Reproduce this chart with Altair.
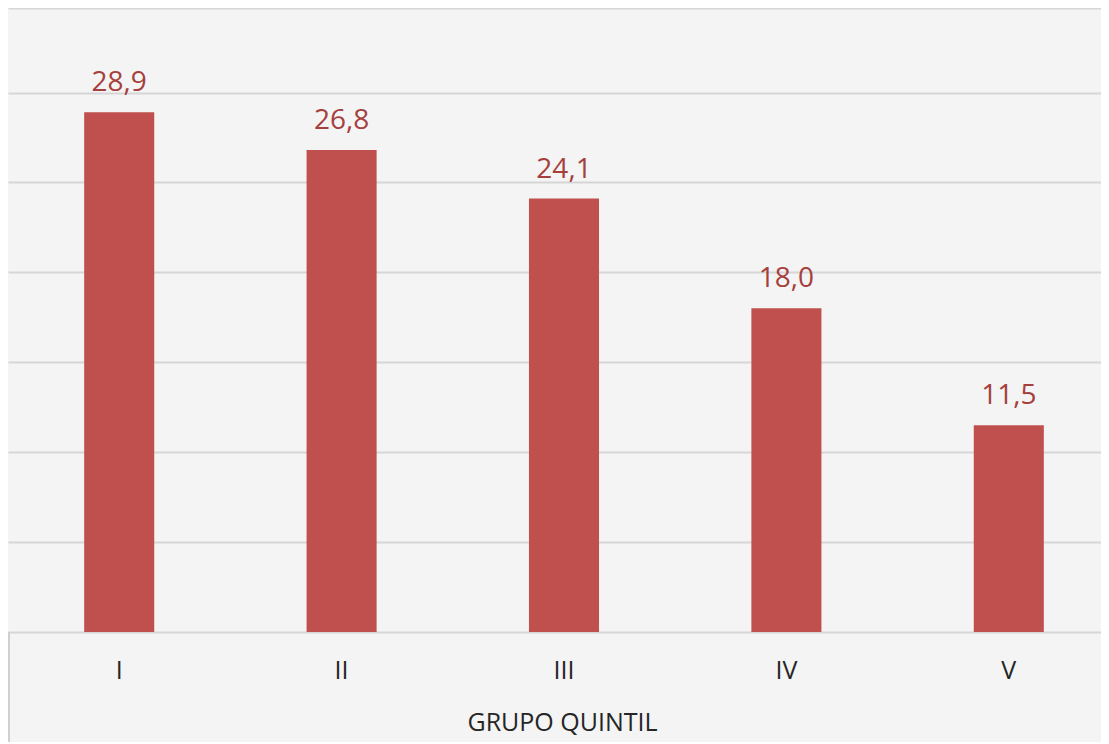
import altair as alt
import pandas as pd

categories = ["I", "II", "III", "IV", "V"]
values = [28.9, 26.8, 24.1, 18.0, 11.5]
labels = ["28,9", "26,8", "24,1", "18,0", "11,5"]
y_max = 34.7
grid_values = [0, 5, 10, 15, 20, 25, 30, 34.7]

df = pd.DataFrame({"grupo": categories, "valor": values, "etiqueta": labels})

FONT = "Open Sans"

x_enc = alt.X(
    "grupo:N",
    sort=categories,
    scale=alt.Scale(paddingInner=0.685, paddingOuter=0.3425, range=[0, 1112]),
    axis=alt.Axis(
        title="GRUPO QUINTIL",
        labelAngle=0,
        labelFont=FONT,
        labelFontSize=25,
        labelColor="#262626",
        labelPadding=26,
        ticks=False,
        domain=False,
        titleFont=FONT,
        titleFontSize=25,
        titleFontWeight="normal",
        titleColor="#262626",
        titlePadding=27,
        titleX=554,
        grid=False,
    ),
)

y_enc = alt.Y(
    "valor:Q",
    scale=alt.Scale(domain=[0, y_max], nice=False),
    axis=alt.Axis(
        title=None,
        labels=False,
        ticks=False,
        domain=False,
        values=grid_values,
        grid=True,
        gridColor="#d6d6d6",
        gridWidth=2,
    ),
)

bars = alt.Chart(df).mark_bar(color="#c0504d").encode(x=x_enc, y=y_enc)

text = alt.Chart(df).mark_text(
    font=FONT, fontSize=28, color="#a5403d", baseline="alphabetic", dy=-21
).encode(x=alt.X("grupo:N", sort=categories), y="valor:Q", text="etiqueta:N")

left_rule = alt.Chart(df).mark_rule(color="#d0d0d0", strokeWidth=2).encode(
    x=alt.value(1), y=alt.value(624), y2=alt.value(760)
)

chart = (
    alt.layer(bars, text, left_rule)
    .properties(
        width=1093,
        height=624,
        autosize=alt.AutoSizeParams(type="none"),
        padding={"left": 0, "top": 0, "right": 0, "bottom": 110},
        background="#f4f4f4",
    )
    .configure_view(stroke=None)
)

chart.save("out.html", embed_options={"renderer": "svg", "actions": False})
